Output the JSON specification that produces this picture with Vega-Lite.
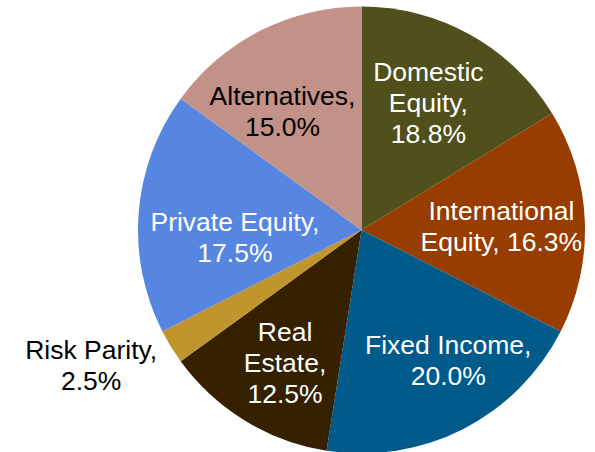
{
  "$schema": "https://vega.github.io/schema/vega-lite/v6.json",
  "width": 447,
  "height": 447,
  "autosize": {"type": "none"},
  "padding": {"left": 138, "top": 6.5, "right": 10, "bottom": 0},
  "background": "white",
  "config": {"view": {"stroke": null}, "text": {"font": "Liberation Sans", "fontSize": 26.5, "lineHeight": 31, "lineBreak": "\n", "align": "center", "baseline": "middle"}},
  "data": {
    "values": [
      {"category": "Domestic Equity", "share": 16.25, "label": "Domestic\nEquity,\n18.8%", "order": 1},
      {"category": "International Equity", "share": 16.25, "label": "International\nEquity, 16.3%", "order": 2},
      {"category": "Fixed Income", "share": 20.0, "label": "Fixed Income,\n20.0%", "order": 3},
      {"category": "Real Estate", "share": 12.5, "label": "Real\nEstate,\n12.5%", "order": 4},
      {"category": "Risk Parity", "share": 2.5, "label": "Risk Parity,\n2.5%", "order": 5},
      {"category": "Private Equity", "share": 17.5, "label": "Private Equity,\n17.5%", "order": 6},
      {"category": "Alternatives", "share": 15.0, "label": "Alternatives,\n15.0%", "order": 7}
    ]
  },
  "encoding": {
    "theta": {"field": "share", "type": "quantitative", "stack": true},
    "order": {"field": "order", "type": "quantitative"}
  },
  "layer": [
    {
      "mark": {"type": "arc"},
      "encoding": {
        "color": {
          "field": "category", "type": "nominal", "legend": null,
          "scale": {
            "domain": ["Domestic Equity", "International Equity", "Fixed Income", "Real Estate", "Risk Parity", "Private Equity", "Alternatives"],
            "range": ["#4F501C", "#973D00", "#005A8A", "#352000", "#C0952E", "#5686E0", "#C29188"]
          }
        }
      }
    },
    {
      "mark": {"type": "text", "radius": 143, "dx": -3, "dy": -32, "fill": "white"},
      "encoding": {"text": {"condition": {"test": "datum.category === 'Domestic Equity'", "field": "label"}, "value": ""}}
    },
    {
      "mark": {"type": "text", "radius": 140, "dx": 0, "dy": -12.5, "fill": "white"},
      "encoding": {"text": {"condition": {"test": "datum.category === 'International Equity'", "field": "label"}, "value": ""}}
    },
    {
      "mark": {"type": "text", "radius": 158, "dx": 15, "dy": -24.5, "fill": "white"},
      "encoding": {"text": {"condition": {"test": "datum.category === 'Fixed Income'", "field": "label"}, "value": ""}}
    },
    {
      "mark": {"type": "text", "radius": 155, "dx": 4.5, "dy": -28.7, "fill": "white"},
      "encoding": {"text": {"condition": {"test": "datum.category === 'Real Estate'", "field": "label"}, "value": ""}}
    },
    {
      "mark": {"type": "text", "radius": 303, "dx": -12, "dy": -37.1, "fill": "black"},
      "encoding": {"text": {"condition": {"test": "datum.category === 'Risk Parity'", "field": "label"}, "value": ""}}
    },
    {
      "mark": {"type": "text", "radius": 127, "dx": 0, "dy": 2.5, "fill": "white"},
      "encoding": {"text": {"condition": {"test": "datum.category === 'Private Equity'", "field": "label"}, "value": ""}}
    },
    {
      "mark": {"type": "text", "radius": 141, "dx": -15, "dy": -6.9, "fill": "black"},
      "encoding": {"text": {"condition": {"test": "datum.category === 'Alternatives'", "field": "label"}, "value": ""}}
    }
  ]
}
